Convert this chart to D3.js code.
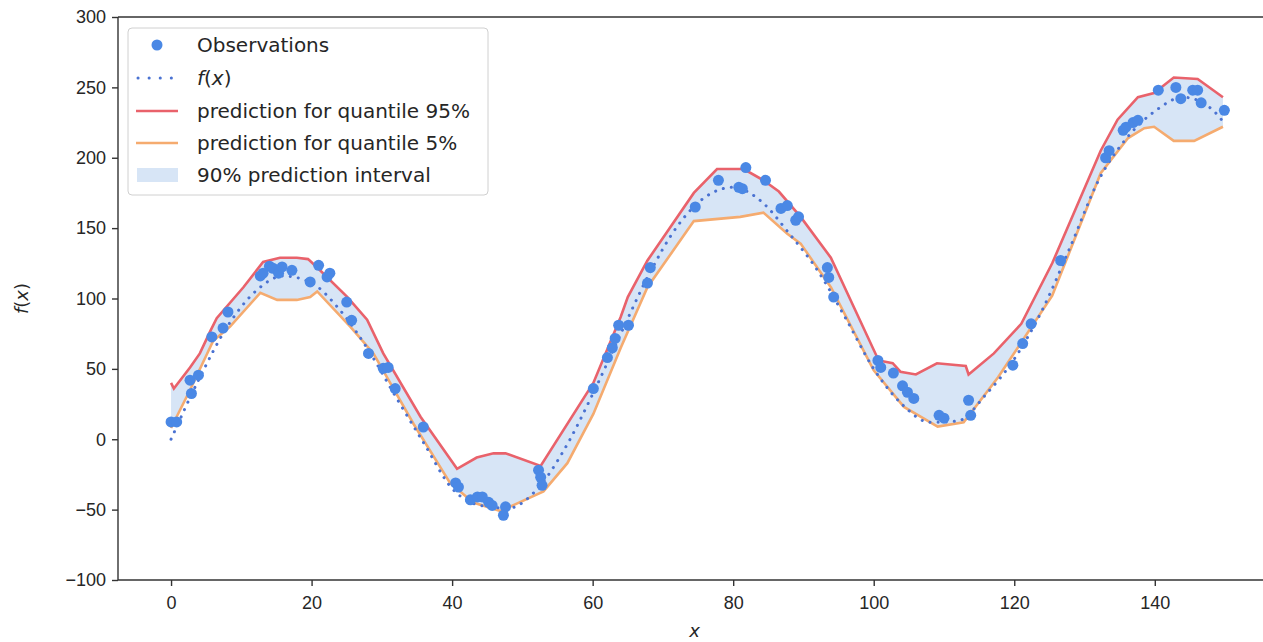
<!DOCTYPE html>
<html>
<head>
<meta charset="utf-8">
<style>
body { margin: 0; background: #fff; }
svg { font-family: "DejaVu Sans", sans-serif; }
.axis text { font-size: 18px; fill: #262626; }
.axis line, .axis path { stroke: #333; stroke-width: 1.4px; }
.legend text { font-size: 20px; fill: #262626; }
</style>
<script src="https://d3js.org/d3.v7.min.js"></script>
</head>
<body>
<svg width="1263" height="642"></svg>
<script>

// observations (x, y)
var obsX = [0,0.8,2.9,2.7,3.9,5.8,7.4,8.1,12.7,13.1,14,14.5,15.3,15.8,17.2,19.8,21,22.2,22.6,25,25.7,28.1,30.2,30.9,31.9,35.9,
  40.5,40.9,42.6,43.6,44.3,45.2,45.7,47.6,47.3,52.3,52.6,52.8,60.1,62.1,62.8,63.2,63.7,65.1,67.8,68.2,74.6,77.9,80.8,81.3,81.8,
  84.6,86.8,87.7,88.9,89.3,93.4,93.6,94.3,100.6,101,102.8,104.1,104.8,105.7,109.3,110,113.5,113.8,119.8,121.2,122.4,126.6,
  133,133.5,135.5,135.9,136.9,137.6,140.5,143,143.7,145.4,146.1,146.6,149.9];
var obsY = [12.3,12.3,32.5,42,45.5,72.7,79,90.4,116,118,123,121.5,118,122.4,120,111.8,123.6,115.3,118,97.5,84.5,61,50.4,51,36,8.7,
  -31,-34,-43,-41,-41,-44.8,-47,-48,-54,-22,-27,-32.7,36,58,65,71.6,81,81,111,122,165,184,179,178,193,
  184,164,166,155.6,158,122,115,101,56,51,47,38,33.4,29,17,15,27.7,17,52.6,68,82,127,
  200,205,219.5,221.7,225,226.6,248,250,242,248,248,239,233.7];

// true function f(x), dotted line
var fX = [0,4,8,12,16,20,24,28,32,36,40,44,48,52,56,60,64,68,72,76,80,84,88,92,96,100,104,108,112,116,120,124,128,132,136,140,144,148,149.5];
var fY = [0,43,80,105,116,111,92,64,30,-3,-35,-47,-49,-36,-7,32,75,117,151,172,179,169,146,120,86,50,25,12,13,32,57,92,137,184,214,233,243,235,227];

// upper quantile (95%)
var hiX = [0,0.4,2.7,4.1,5.6,6.5,10.3,13.1,15.5,17.9,19.5,20.8,25.1,27.9,30.2,35.5,40.7,43.5,45.9,47.6,52.6,60.1,64,65,67.8,
  74.4,77.7,81.5,84.3,86.5,89.6,93.9,100.7,102.7,103.8,106,109,113.1,113.5,117.1,121,125.4,132.3,134.7,137.6,139.9,142.7,146.1,149.7];
var hiY = [40,36,51,61,77,86,108,126,129,129,128,122,101,85,61,16,-21,-13,-10,-10,-19,40,87,101,127,
  175,192,192,184,176,158,129,56,54,48,46,54,52,46,61,82,125,205,227,243,246,257,256,243];

// lower quantile (5%)
var loX = [0,2.7,6,8.4,12.7,15.1,17.9,19.8,20.8,25.5,28.8,34.5,39.7,43,46.9,53,56.4,60.1,64,67.8,74.4,81,84.3,87.7,89.6,93.9,
  100,104.3,109.1,112.8,117.7,125.4,132.3,136.2,138.5,139.9,142.7,145.6,149.7];
var loY = [8,35,70,80,104,99,99,101,105,80,61,11,-31,-45,-51,-37,-17,18,65,108,155,158,161,146,139,108,
  49,23,9,12,44,102,189,214,221,222,212,212,222];

var xTicks = [0,20,40,60,80,100,120,140];
var yTicks = [-100,-50,0,50,100,150,200,250,300];

var legendLabels = ["Observations", "f(x)", "prediction for quantile 95%", "prediction for quantile 5%", "90% prediction interval"];

var colObs = "#4a88e5", colF = "#4a72d2", colHi = "#e9626b", colLo = "#f5ab6f", colFill = "#d7e5f6";

var svg = d3.select("svg");
var plotL = 118, plotR = 1263, plotT = 17, plotB = 580;

var x = d3.scaleLinear().domain([-7.55, 155.4]).range([plotL, plotR]);
var y = d3.scaleLinear().domain([-100, 300]).range([plotB, plotT]);

function pts(xs, ys) { return xs.map(function(v, i) { return [v, ys[i]]; }); }

var line = d3.line().x(function(d) { return x(d[0]); }).y(function(d) { return y(d[1]); });
var smooth = d3.line().curve(d3.curveMonotoneX).x(function(d) { return x(d[0]); }).y(function(d) { return y(d[1]); });

var hi = pts(hiX, hiY), lo = pts(loX, loY);

// shaded interval: upper edge forward, lower edge back
svg.append("path")
    .attr("d", line(hi.concat(lo.slice().reverse())) + "Z")
    .attr("fill", colFill)
    .attr("stroke", "none");

svg.append("path")
    .attr("d", line(hi))
    .attr("fill", "none")
    .attr("stroke", colHi)
    .attr("stroke-width", 2.6);

svg.append("path")
    .attr("d", line(lo))
    .attr("fill", "none")
    .attr("stroke", colLo)
    .attr("stroke-width", 2.6);

svg.append("path")
    .attr("d", smooth(pts(fX, fY)))
    .attr("fill", "none")
    .attr("stroke", colF)
    .attr("stroke-width", 3)
    .attr("stroke-linecap", "round")
    .attr("stroke-dasharray", "0.1,8");

svg.selectAll(".obs")
    .data(pts(obsX, obsY))
    .enter().append("circle")
    .attr("class", "obs")
    .attr("cx", function(d) { return x(d[0]); })
    .attr("cy", function(d) { return y(d[1]); })
    .attr("r", 5.5)
    .attr("fill", colObs);

// axes
var xAxis = svg.append("g")
    .attr("class", "axis")
    .attr("transform", "translate(0," + plotB + ")")
    .call(d3.axisBottom(x).tickValues(xTicks).tickSize(6).tickPadding(8)
      .tickFormat(function(d) { return d3.format("d")(d); }));

var yAxis = svg.append("g")
    .attr("class", "axis")
    .attr("transform", "translate(" + plotL + ",0)")
    .call(d3.axisLeft(y).tickValues(yTicks).tickSize(6).tickPadding(6)
      .tickFormat(function(d) { return d < 0 ? "\u2212" + Math.abs(d) : d; }));

xAxis.select(".domain").remove();
yAxis.select(".domain").remove();
xAxis.selectAll("text").attr("dy", "0.85em");

// spines (no right spine in the picture, it is cut off)
svg.append("line").attr("x1", plotL).attr("x2", plotR).attr("y1", plotT).attr("y2", plotT)
    .attr("stroke", "#333").attr("stroke-width", 1.4);
svg.append("line").attr("x1", plotL).attr("x2", plotR).attr("y1", plotB).attr("y2", plotB)
    .attr("stroke", "#333").attr("stroke-width", 1.4);
svg.append("line").attr("x1", plotL).attr("x2", plotL).attr("y1", plotT).attr("y2", plotB)
    .attr("stroke", "#333").attr("stroke-width", 1.4);

// axis labels
svg.append("text")
    .attr("x", x(74.5))
    .attr("y", 637)
    .attr("text-anchor", "middle")
    .style("font-size", "18px")
    .style("font-style", "italic")
    .attr("fill", "#262626")
    .text("x");

svg.append("text")
    .attr("transform", "translate(28," + y(100) + ") rotate(-90)")
    .attr("text-anchor", "middle")
    .style("font-size", "18px")
    .attr("fill", "#262626")
    .html('<tspan font-style="italic">f</tspan>(<tspan font-style="italic">x</tspan>)');

// legend
var legend = svg.append("g").attr("class", "legend");
legend.append("rect")
    .attr("x", 128).attr("y", 28).attr("width", 360).attr("height", 167)
    .attr("rx", 4)
    .attr("fill", "#fff").attr("fill-opacity", 0.85)
    .attr("stroke", "#d0d0d0");

var rowY = [45, 78, 111, 143, 175];
legend.append("circle").attr("cx", 157).attr("cy", rowY[0]).attr("r", 5.5).attr("fill", colObs);
legend.append("line").attr("x1", 138).attr("x2", 178).attr("y1", rowY[1]).attr("y2", rowY[1])
    .attr("stroke", colF).attr("stroke-width", 3).attr("stroke-linecap", "round").attr("stroke-dasharray", "0.1,11");
legend.append("line").attr("x1", 136).attr("x2", 178).attr("y1", rowY[2]).attr("y2", rowY[2])
    .attr("stroke", colHi).attr("stroke-width", 2.6);
legend.append("line").attr("x1", 136).attr("x2", 178).attr("y1", rowY[3]).attr("y2", rowY[3])
    .attr("stroke", colLo).attr("stroke-width", 2.6);
legend.append("rect").attr("x", 137).attr("y", rowY[4] - 7).attr("width", 41).attr("height", 14)
    .attr("fill", colFill);

legend.selectAll(".lab")
    .data(legendLabels)
    .enter().append("text")
    .attr("class", "lab")
    .attr("x", 197)
    .attr("y", function(d, i) { return rowY[i]; })
    .attr("dy", "0.35em")
    .each(function(d, i) {
      if (i == 1) {
        d3.select(this).html('<tspan font-style="italic">f</tspan>(<tspan font-style="italic">x</tspan>)');
      } else {
        d3.select(this).text(d);
      }
    });

</script>
</body>
</html>
